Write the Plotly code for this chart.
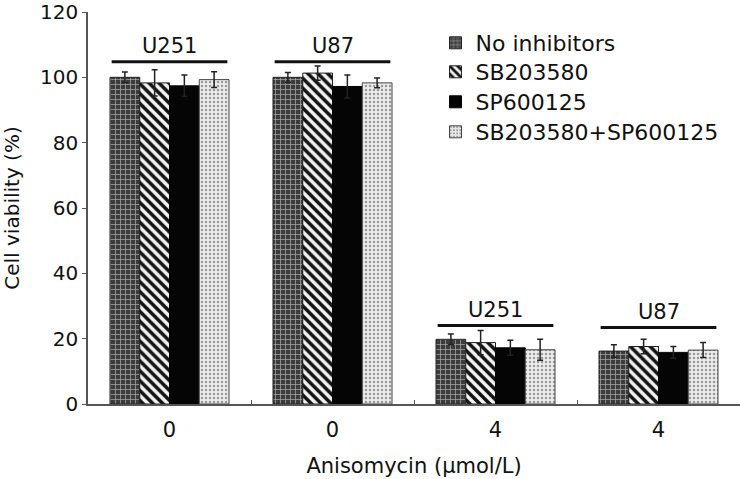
import plotly.graph_objects as go

# ---- data ----
x_positions = [0, 1, 2, 3]
tick_labels = ["0", "0", "4", "4"]
cell_lines = ["U251", "U87", "U251", "U87"]

series_names = ["No inhibitors", "SB203580", "SP600125", "SB203580+SP600125"]
no_inhibitors = [100.0, 100.0, 19.8, 16.2]
no_inhibitors_err = [1.6, 1.5, 1.6, 1.9]
sb203580 = [98.3, 101.3, 18.8, 17.6]
sb203580_err = [4.0, 2.2, 3.7, 2.2]
sp600125 = [97.4, 97.2, 17.2, 15.8]
sp600125_err = [3.3, 3.5, 2.3, 1.8]
combo = [99.3, 98.3, 16.6, 16.5]
combo_err = [2.4, 1.5, 3.2, 2.3]

values = [no_inhibitors, sb203580, sp600125, combo]
errors = [no_inhibitors_err, sb203580_err, sp600125_err, combo_err]

FONT = "DejaVu Sans"
W, H = 740, 479
ML, MR, MT, MB = 88, 0, 12, 75

styles = [
    dict(color="#3c3c3c", line=dict(color="#222", width=1),
         pattern=dict(shape="+", fgcolor="#b0b0b0", bgcolor="#3c3c3c", size=5, solidity=0.25, fillmode="replace")),
    dict(color="white", line=dict(color="#222", width=1),
         pattern=dict(shape="\\", fgcolor="#111", bgcolor="#f4f4f4", size=7, solidity=0.5, fillmode="replace")),
    dict(color="#050505", line=dict(color="#050505", width=1)),
    dict(color="#e6e6e6", line=dict(color="#444", width=1),
         pattern=dict(shape=".", fgcolor="#9a9a9a", bgcolor="#ececec", size=4, solidity=0.3, fillmode="replace")),
]

legend_keys = ["legend", "legend2", "legend3", "legend4"]
legend_rows_px = [43, 72, 102, 132]  # vertical centre of each legend row (pixels from top)

fig = go.Figure()
for i, (name, v, e, st) in enumerate(zip(series_names, values, errors, styles)):
    fig.add_trace(go.Bar(
        x=x_positions, y=v, name=name,
        marker=st,
        error_y=dict(type="data", array=e, visible=True, color="#222", thickness=1.5, width=3),
        legend=legend_keys[i],
    ))

# group brackets with cell line labels
half = 0.355
bracket_y = [104.8, 104.8, 24, 23.4]
for xp, lab, by in zip(x_positions, cell_lines, bracket_y):
    fig.add_shape(type="line", xref="x", yref="y", x0=xp - half, x1=xp + half,
                  y0=by, y1=by, line=dict(color="#111", width=3))
    fig.add_annotation(x=xp, y=by, xref="x", yref="y", text=lab, showarrow=False,
                       yanchor="bottom", yshift=2, font=dict(family=FONT, size=21, color="#111"))

plot_h = H - MT - MB
legend_layouts = {}
for key, ypx in zip(legend_keys, legend_rows_px):
    legend_layouts[key] = dict(
        x=0.533, y=(H - MB - ypx) / plot_h, xanchor="left", yanchor="middle",
        font=dict(family=FONT, size=22, color="#111"), bgcolor="rgba(0,0,0,0)",
    )

fig.update_layout(
    width=W, height=H,
    margin=dict(l=ML, r=MR, t=MT, b=MB),
    paper_bgcolor="white", plot_bgcolor="white",
    barmode="group", bargap=0.27, bargroupgap=0,
    font=dict(family=FONT, size=20, color="#111"),
    showlegend=True,
    xaxis=dict(range=[-0.5, 3.5], tickvals=x_positions, ticktext=tick_labels,
               showline=True, linecolor="#555", linewidth=1.5, ticks="",
               showgrid=False, zeroline=False, automargin=False,
               ticklabelstandoff=6,
               minor=dict(tickvals=[0.5, 1.5, 2.5], ticks="inside", ticklen=4, tickcolor="#555"),
               title=dict(text="Anisomycin (μmol/L)", font=dict(family=FONT, size=21), standoff=17),
               tickfont=dict(family=FONT, size=21)),
    yaxis=dict(range=[0, 120], tickvals=[0, 20, 40, 60, 80, 100, 120],
               showline=True, linecolor="#555", linewidth=1.5, ticks="outside", ticklen=4,
               tickcolor="#555", showgrid=False, zeroline=False, automargin=False,
               ticklabeloverflow="allow",
               title=dict(text="Cell viability (%)", font=dict(family=FONT, size=20), standoff=16),
               tickfont=dict(family=FONT, size=20)),
    **legend_layouts,
)

fig.write_html("out.html", config={"displayModeBar": False},
               post_script="document.body.style.margin='0';")
